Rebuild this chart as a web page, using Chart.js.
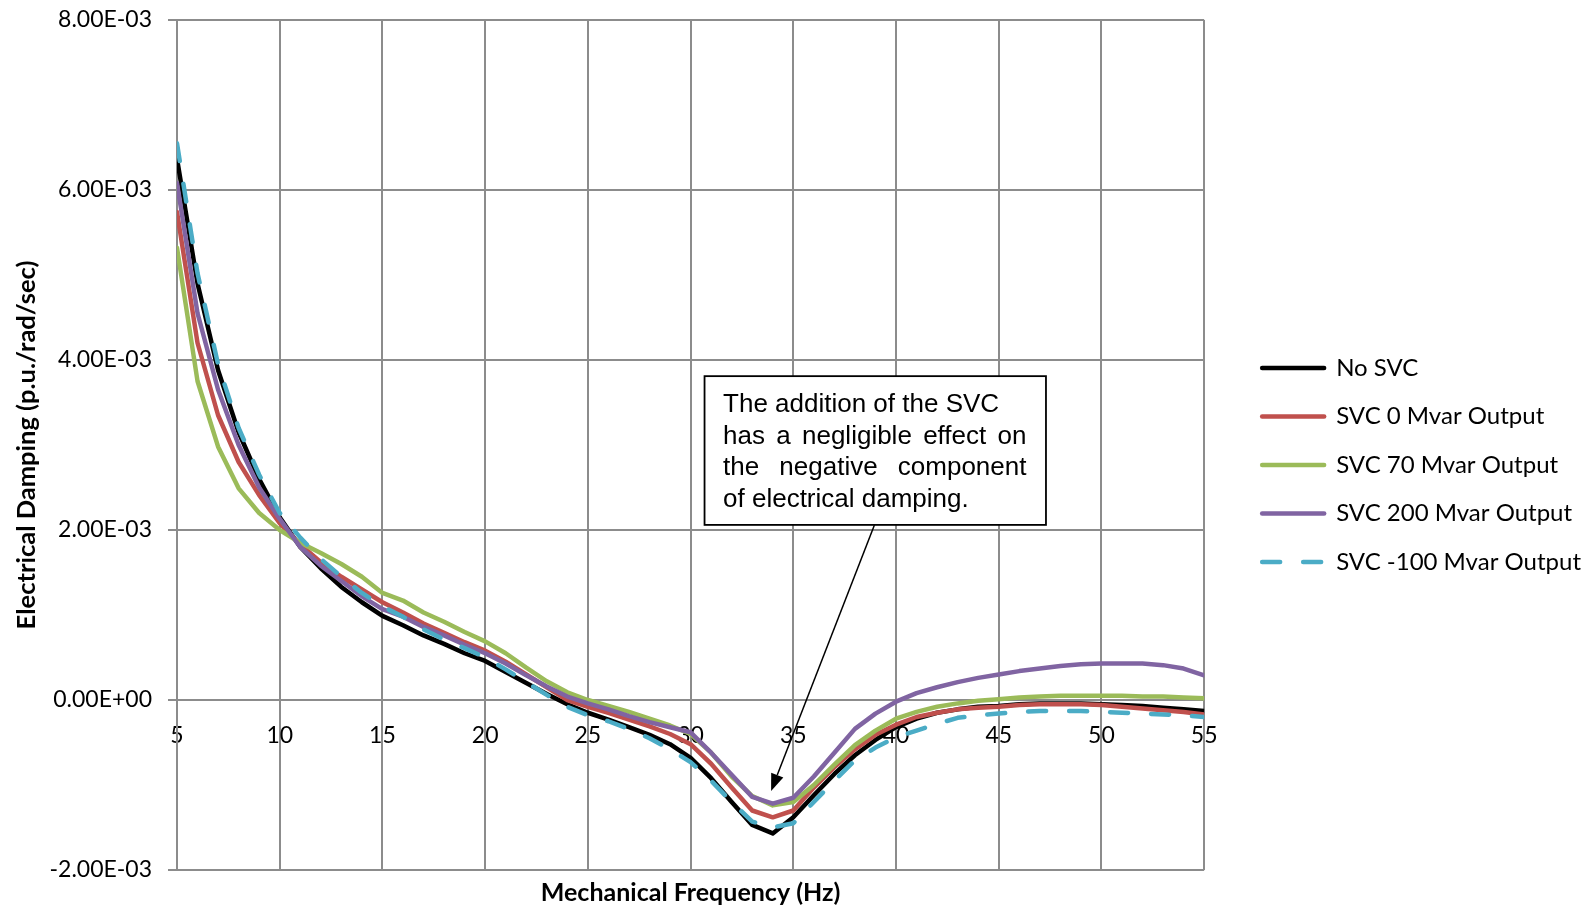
<!DOCTYPE html>
<html>
<head>
<meta charset="utf-8">
<script src="https://cdn.jsdelivr.net/npm/chart.js@4.4.1/dist/chart.umd.min.js"></script>
<style>
  html, body { margin: 0; padding: 0; background: #fff; }
  #chart { display: block; }
</style>
</head>
<body>
<canvas id="chart" width="1591" height="906"></canvas>
<script>
// mechanical frequency (Hz)
const freqs = [5, 6, 7, 8, 9, 10, 11, 12, 13, 14, 15, 16, 17, 18, 19, 20, 21, 22, 23, 24, 25,
  26, 27, 28, 29, 30, 31, 32, 33, 34, 35, 36, 37, 38, 39, 40, 41, 42, 43, 44, 45,
  46, 47, 48, 49, 50, 51, 52, 53, 54, 55];

// electrical damping, in units of 1e-3 p.u./rad/sec
const noSvc = [6.37, 4.9, 3.88, 3.15, 2.6, 2.15, 1.8, 1.55, 1.33, 1.15, 0.99, 0.88, 0.76, 0.66, 0.55, 0.46, 0.33, 0.2, 0.07, -0.05, -0.15,
  -0.23, -0.32, -0.41, -0.52, -0.68, -0.92, -1.2, -1.47, -1.57, -1.38, -1.12, -0.87, -0.65, -0.47, -0.32, -0.22, -0.15, -0.11, -0.08, -0.07,
  -0.05, -0.04, -0.04, -0.04, -0.05, -0.06, -0.07, -0.09, -0.11, -0.13];
const svc0 = [5.74, 4.2, 3.35, 2.8, 2.41, 2.08, 1.83, 1.62, 1.45, 1.3, 1.15, 1.03, 0.9, 0.79, 0.68, 0.58, 0.45, 0.3, 0.15, 0.0, -0.08,
  -0.15, -0.23, -0.31, -0.4, -0.52, -0.75, -1.03, -1.3, -1.38, -1.3, -1.03, -0.79, -0.58, -0.41, -0.29, -0.2, -0.15, -0.11, -0.09, -0.08,
  -0.06, -0.05, -0.05, -0.05, -0.06, -0.08, -0.1, -0.12, -0.14, -0.17];
const svc70 = [5.32, 3.75, 2.98, 2.49, 2.2, 2.0, 1.85, 1.73, 1.6, 1.45, 1.26, 1.17, 1.03, 0.92, 0.8, 0.69, 0.55, 0.38, 0.22, 0.09, 0.0,
  -0.07, -0.14, -0.22, -0.3, -0.4, -0.62, -0.9, -1.13, -1.24, -1.2, -1.0, -0.76, -0.53, -0.36, -0.22, -0.14, -0.08, -0.04, -0.01, 0.01,
  0.03, 0.04, 0.05, 0.05, 0.05, 0.05, 0.04, 0.04, 0.03, 0.02];
const svc200 = [6.08, 4.55, 3.65, 3.0, 2.5, 2.13, 1.8, 1.58, 1.4, 1.22, 1.07, 0.98, 0.86, 0.76, 0.65, 0.55, 0.43, 0.29, 0.16, 0.04, -0.04,
  -0.11, -0.19, -0.26, -0.32, -0.38, -0.62, -0.88, -1.14, -1.22, -1.15, -0.9, -0.62, -0.34, -0.16, -0.02, 0.08, 0.15, 0.21, 0.26, 0.3,
  0.34, 0.37, 0.4, 0.42, 0.43, 0.43, 0.43, 0.41, 0.37, 0.29];
const svcMinus100 = [6.55, 5.02, 3.95, 3.2, 2.65, 2.2, 1.91, 1.66, 1.45, 1.26, 1.1, 0.98, 0.83, 0.71, 0.61, 0.5, 0.36, 0.21, 0.06, -0.08, -0.18,
  -0.25, -0.34, -0.45, -0.58, -0.73, -0.95, -1.2, -1.43, -1.5, -1.45, -1.2, -0.95, -0.71, -0.56, -0.44, -0.36, -0.28, -0.21, -0.18, -0.16,
  -0.14, -0.13, -0.13, -0.13, -0.14, -0.15, -0.16, -0.17, -0.18, -0.2];

const seriesNames = ['No SVC', 'SVC 0 Mvar Output', 'SVC 70 Mvar Output', 'SVC 200 Mvar Output', 'SVC -100 Mvar Output'];
const seriesColors = ['#000000', '#C0504D', '#9BBB59', '#8064A2', '#4BACC6'];

// callout text box and arrow, in data coordinates
const noteLines = ['The addition of the SVC', 'has a negligible effect on', 'the negative component', 'of electrical damping.'];
const noteJustify = [false, true, true, false];
const noteBox = { x1: 30.68, x2: 47.3, y1: 0.00381, y2: 0.00206 };
const noteArrow = { fromX: 38.95, fromY: 0.00206, toX: 33.92, toY: -0.00107 };

const FONT = 'Lato, "Open Sans", sans-serif';
const GRID = '#8c8c8c';

function sci(v) {
  const parts = v.toExponential(2).split('e');
  const e = parseInt(parts[1], 10);
  return parts[0] + 'E' + (e < 0 ? '-' : '+') + String(Math.abs(e)).padStart(2, '0');
}

function points(vals) {
  return freqs.map((f, i) => ({ x: f, y: vals[i] * 1e-3 }));
}

const calloutPlugin = {
  id: 'callout',
  afterDatasetsDraw(chart) {
    const { ctx, scales: { x, y } } = chart;
    const left = x.getPixelForValue(noteBox.x1);
    const right = x.getPixelForValue(noteBox.x2);
    const top = y.getPixelForValue(noteBox.y1);
    const bottom = y.getPixelForValue(noteBox.y2);

    ctx.save();
    // arrow
    const fx = x.getPixelForValue(noteArrow.fromX), fy = y.getPixelForValue(noteArrow.fromY);
    const tx = x.getPixelForValue(noteArrow.toX), ty = y.getPixelForValue(noteArrow.toY);
    const ang = Math.atan2(ty - fy, tx - fx);
    const headLen = 17, headHalf = 6.5;
    const bx = tx - Math.cos(ang) * headLen, by = ty - Math.sin(ang) * headLen;
    ctx.strokeStyle = '#000';
    ctx.fillStyle = '#000';
    ctx.lineWidth = 1.5;
    ctx.beginPath();
    ctx.moveTo(fx, fy);
    ctx.lineTo(bx, by);
    ctx.stroke();
    ctx.beginPath();
    ctx.moveTo(tx, ty);
    ctx.lineTo(bx + Math.sin(ang) * headHalf, by - Math.cos(ang) * headHalf);
    ctx.lineTo(bx - Math.sin(ang) * headHalf, by + Math.cos(ang) * headHalf);
    ctx.closePath();
    ctx.fill();

    // box
    ctx.fillStyle = '#fff';
    ctx.fillRect(left, top, right - left, bottom - top);
    ctx.lineWidth = 1.8;
    ctx.strokeRect(left, top, right - left, bottom - top);

    // text
    ctx.fillStyle = '#000';
    ctx.font = '26px "Liberation Sans", Arial, sans-serif';
    ctx.textBaseline = 'alphabetic';
    ctx.textAlign = 'left';
    const textLeft = left + 18.5;
    const textWidth = right - left - 38;
    noteLines.forEach((line, i) => {
      const base = top + 35.7 + i * 31.7;
      if (!noteJustify[i]) {
        ctx.fillText(line, textLeft, base);
        return;
      }
      const words = line.split(' ');
      const widths = words.map(w => ctx.measureText(w).width);
      const gap = (textWidth - widths.reduce((a, b) => a + b, 0)) / (words.length - 1);
      let cx = textLeft;
      words.forEach((w, j) => {
        ctx.fillText(w, cx, base);
        cx += widths[j] + gap;
      });
    });
    ctx.restore();
  }
};

const allSeries = [noSvc, svc0, svc70, svc200, svcMinus100];

new Chart(document.getElementById('chart'), {
  type: 'line',
  data: {
    datasets: allSeries.map((vals, i) => ({
      label: seriesNames[i],
      data: points(vals),
      borderColor: seriesColors[i],
      backgroundColor: seriesColors[i],
      borderWidth: 4.5,
      borderDash: i === 4 ? [18, 23] : [],
      borderCapStyle: 'round',
      borderJoinStyle: 'round',
      pointRadius: 0,
      tension: 0,
      order: allSeries.length - i,
      xAxisID: 'x',
      yAxisID: 'y'
    }))
  },
  options: {
    responsive: false,
    animation: false,
    devicePixelRatio: 1,
    layout: { padding: { top: 20, right: 0, bottom: 0, left: 0 } },
    font: { family: FONT },
    plugins: {
      tooltip: { enabled: false },
      legend: {
        position: 'right',
        maxWidth: 400,
        // empty title, only nudges the legend column down a little
        title: { display: true, text: '', font: { size: 3.4 }, padding: 0 },
        labels: {
          usePointStyle: true,
          pointStyle: 'line',
          pointStyleWidth: 62,
          padding: 24.5,
          color: '#000',
          font: { family: FONT, size: 24 },
          sort: (a, b) => a.datasetIndex - b.datasetIndex,
          generateLabels(chart) {
            const items = Chart.defaults.plugins.legend.labels.generateLabels(chart);
            items.forEach(it => {
              const ds = chart.data.datasets[it.datasetIndex];
              it.lineWidth = ds.borderWidth;
              it.lineDash = ds.borderDash;
              it.lineCap = 'round';
              it.strokeStyle = ds.borderColor;
            });
            return items;
          }
        }
      }
    },
    scales: {
      x: {
        type: 'linear',
        axis: 'x',
        position: { y: 0 },
        min: 5,
        max: 55,
        ticks: { stepSize: 5, padding: 22, maxRotation: 0, autoSkip: false, color: '#000', font: { family: FONT, size: 23 } },
        grid: { color: GRID, lineWidth: 2, drawTicks: false },
        border: { color: GRID, width: 2 }
      },
      x2: {
        type: 'linear',
        axis: 'x',
        position: 'bottom',
        min: 5,
        max: 55,
        ticks: { display: false },
        grid: { display: false },
        border: { display: false },
        title: {
          display: true,
          text: 'Mechanical Frequency (Hz)',
          color: '#000',
          padding: { top: 0, bottom: -2 },
          font: { family: FONT, size: 25, weight: 'bold' }
        },
        afterFit(s) { s.height = 36; }
      },
      y: {
        type: 'linear',
        axis: 'y',
        position: 'left',
        min: -0.002,
        max: 0.008,
        ticks: { stepSize: 0.002, padding: 16, color: '#000', font: { family: FONT, size: 23 }, callback: v => sci(v) },
        grid: { color: GRID, lineWidth: 2, tickLength: 9 },
        border: { color: GRID, width: 2 },
        title: {
          display: true,
          text: 'Electrical Damping (p.u./rad/sec)',
          color: '#000',
          padding: { top: 11, bottom: 0 },
          font: { family: FONT, size: 25.5, weight: 'bold' }
        },
        afterFit(s) {
          s.width = 177;
          // the tick labels may overhang the plot; keep the plot box fixed
          s.paddingTop = 0;
          s.paddingBottom = 0;
        }
      },
      yR: {
        type: 'linear',
        axis: 'y',
        position: 'right',
        ticks: { display: false },
        grid: { display: false },
        border: { display: false },
        afterFit(s) { s.width = 33.5; }
      }
    }
  },
  plugins: [calloutPlugin]
});
</script>
</body>
</html>
